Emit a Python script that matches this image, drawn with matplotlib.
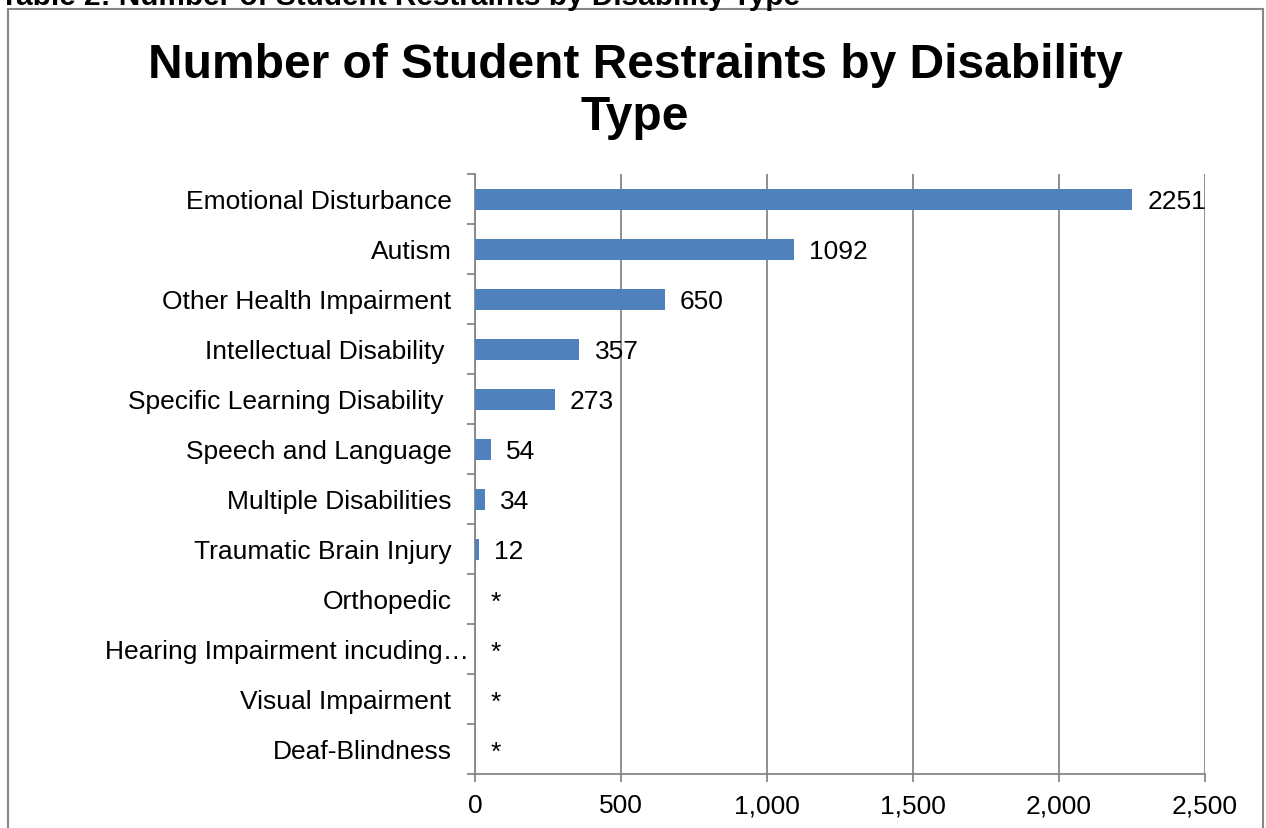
import matplotlib
matplotlib.use("Agg")
import matplotlib.pyplot as plt
import matplotlib.transforms as mtransforms
from matplotlib.patches import Rectangle
from matplotlib.ticker import FuncFormatter, FixedLocator

plt.rcParams['font.family'] = ['Liberation Sans', 'DejaVu Sans']

# data, top to bottom as shown
categories = ['Emotional Disturbance', 'Autism', 'Other Health Impairment',
              'Intellectual Disability ', 'Specific Learning Disability ',
              'Speech and Language', 'Multiple Disabilities', 'Traumatic Brain Injury',
              'Orthopedic', 'Hearing Impairment incuding\u2026', 'Visual Impairment',
              'Deaf-Blindness']
counts = [2251, 1092, 650, 357, 273, 54, 34, 12, 0, 0, 0, 0]
value_labels = ['2251', '1092', '650', '357', '273', '54', '34', '12', '*', '*', '*', '*']

bar_color = '#4F81BD'
grid_color = '#868686'

fig = plt.figure(figsize=(12.66, 8.29), dpi=100)
W, H = 1266, 829

# outer chart frame
fig.patches.append(Rectangle((8 / W, -0.02), (1263 - 8) / W, (829 - 10) / H + 0.02,
                             transform=fig.transFigure, fill=False,
                             edgecolor='#888888', linewidth=1.5))

# clipped caption at the very top
fig.text(0, 1 - 5 / H, 'Table 2: Number of Student Restraints by Disability Type',
         ha='left', va='baseline', fontsize=21.4, fontweight='bold')

fig.text(635 / W, 1 - 91 / H, 'Number of Student Restraints by Disability\nType',
         ha='center', va='center', fontsize=34.5, fontweight='bold', linespacing=1.2)

ax = fig.add_axes([475 / W, 1 - 775 / H, (1205 - 475) / W, (775 - 175) / H])

n = len(categories)
ypos = list(range(n))
ax.barh(ypos, counts, height=0.42, color=bar_color, zorder=3)
ax.set_ylim(n - 0.5, -0.5)
ax.set_xlim(0, 2500)

for y, v, lab in zip(ypos, counts, value_labels):
    ax.annotate(lab, (v, y), xytext=(11, 0), textcoords='offset points',
                ha='left', va='center_baseline', fontsize=19, zorder=4)

ax.set_xticks([0, 500, 1000, 1500, 2000, 2500])
ax.xaxis.set_major_formatter(FuncFormatter(lambda x, p: f'{int(x):,}'))
ax.set_yticks(ypos)
ax.set_yticklabels(categories)
ax.yaxis.set_minor_locator(FixedLocator([i - 0.5 for i in range(n + 1)]))
ax.tick_params(axis='y', which='major', length=0, pad=17, labelsize=19)
ax.tick_params(axis='y', which='minor', length=6, width=1.3, color=grid_color, direction='out')
ax.tick_params(axis='x', which='major', length=6, width=1.3, color=grid_color,
               direction='out', labelsize=19, pad=8)

# truncated label runs up to the axis line in the original
for t in ax.get_yticklabels():
    if t.get_text().endswith('\u2026'):
        t.set_transform(t.get_transform() + mtransforms.ScaledTranslation(18 / 100, 0, fig.dpi_scale_trans))

ax.grid(axis='x', color=grid_color, linewidth=1.3, zorder=0)
for side in ['top', 'right']:
    ax.spines[side].set_visible(False)
for side in ['left', 'bottom']:
    ax.spines[side].set_color(grid_color)
    ax.spines[side].set_linewidth(1.3)

fig.savefig('out.png', dpi=100)
